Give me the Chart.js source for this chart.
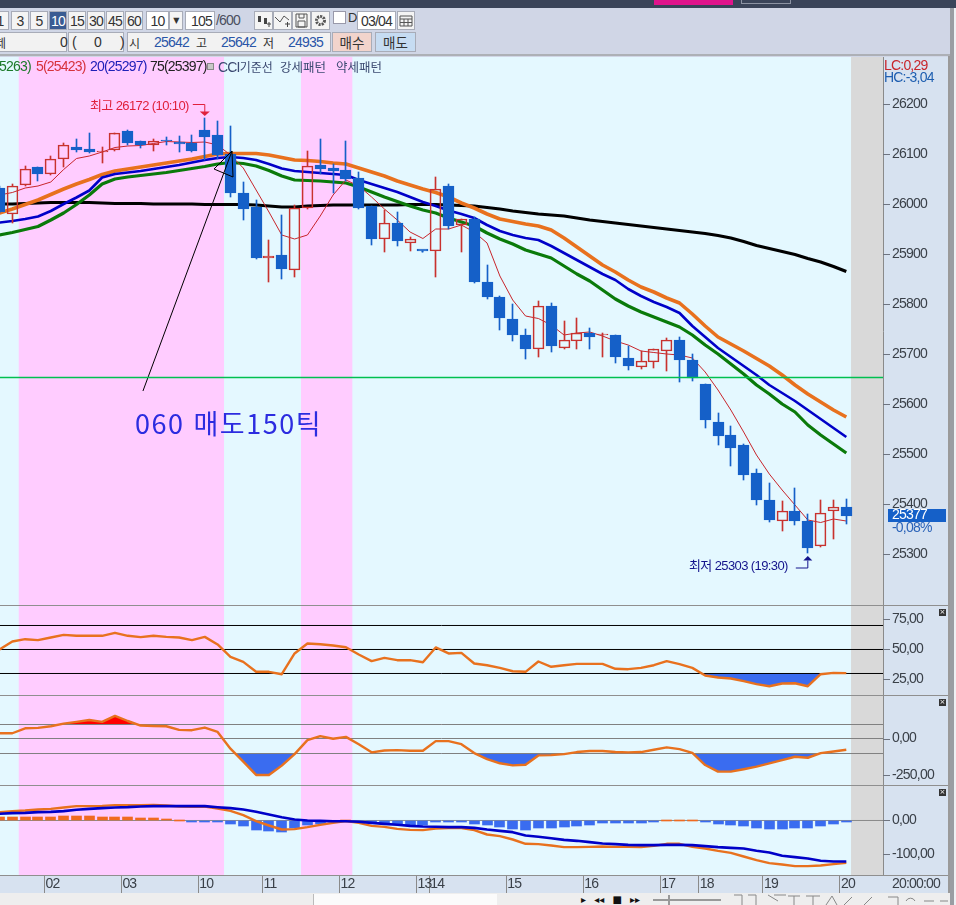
<!DOCTYPE html>
<html lang="ko"><head><meta charset="utf-8">
<script src="https://cdn.jsdelivr.net/npm/chart.js@4"></script>
<style>
html,body{margin:0;padding:0;width:956px;height:905px;overflow:hidden;background:#d0d6e6;}
body{position:relative;font-family:"Liberation Sans","Noto Sans CJK KR",sans-serif;font-size:13px;color:#333;letter-spacing:-.8px;}
.a{position:absolute;white-space:nowrap;}
canvas{position:absolute;left:0;}
.btn{position:absolute;box-sizing:border-box;height:19px;top:11px;background:#f4f4f4;border:1px solid #a8acb8;text-align:center;line-height:18px;font-size:14px;color:#333;}
.f{position:absolute;box-sizing:border-box;top:32px;height:20px;background:#f2f2f2;border:1px solid #a8acb8;}
.t{position:absolute;top:35px;font-size:14px;line-height:15px;white-space:nowrap;}
.k{font-family:"Noto Sans CJK KR";font-size:12px;letter-spacing:0;}
.lg{position:absolute;top:59px;line-height:15px;font-size:14px;white-space:nowrap;z-index:3;}
.lg.k{font-size:12.5px;}
.f.k{font-size:13.5px;}
.x{position:absolute;left:939px;width:7px;height:7px;background:#333;color:#fff;font:7px/7px "DejaVu Sans";text-align:center;z-index:3;letter-spacing:0}
.hl{position:absolute;left:0;width:948px;height:1px;background:#8f8f8f;z-index:3;}
</style></head><body>
<div class="a" style="left:0;top:0;width:956px;height:8px;background:#3a4459"></div>
<div class="a" style="left:654px;top:0;width:79px;height:5px;background:#e0148c"></div>
<div class="a" style="left:741px;top:0;width:48px;height:3px;border:1px solid #8c93a3;border-top:0"></div>

<div class="btn" style="left:-9px;width:18px">1</div><div class="btn" style="left:11px;width:18px">3</div><div class="btn" style="left:30px;width:18px">5</div>
<div class="btn" style="left:49px;width:18px;background:#3a5b92;color:#fff">10</div><div class="btn" style="left:68px;width:18px">15</div><div class="btn" style="left:87px;width:18px">30</div><div class="btn" style="left:106px;width:18px">45</div><div class="btn" style="left:125px;width:18px">60</div>
<div class="btn" style="left:146px;width:23px;background:#fff">10</div><div class="btn" style="left:169px;width:14px;font:8px/17px 'DejaVu Sans'">▼</div>
<div class="btn" style="left:185px;width:30px;background:#fff;text-align:right;padding-right:2px">105</div>
<div class="a" style="left:216px;top:12px;font-size:14px;color:#4a4f60">/600</div>
<div class="btn" style="left:254px;width:19px"><svg width="17" height="17" style="display:block"><path d="M3 4h3v6H3zM9 6h3v6H9z" fill="#444"/><path d="M12 12h4M14 10v5" stroke="#444"/></svg></div>
<div class="btn" style="left:273px;width:19px"><svg width="17" height="17" style="display:block"><path d="M1 5l5 5 4-6 5 4" stroke="#555" fill="none"/><path d="M11 12h5M13.500 10v5" stroke="#444"/></svg></div>
<div class="btn" style="left:292px;width:19px"><svg width="17" height="17" style="display:block"><path d="M3 2h11v13H3zM6 2v4h5V2M5 9h7v6H5z" stroke="#555" fill="none"/></svg></div>
<div class="btn" style="left:311px;width:19px"><svg width="17" height="17" style="display:block"><circle cx="8.500" cy="8.500" r="4" stroke="#555" stroke-width="3" stroke-dasharray="2 1" fill="none"/></svg></div>
<div class="a" style="left:333px;top:11px;width:13px;height:13px;background:#fff;border:1px solid #99a;box-sizing:border-box"></div>
<div class="a" style="left:348px;top:10px;font-size:13px">D</div>
<div class="btn" style="left:357px;width:39px;background:#fff">03/04</div>
<div class="btn" style="left:397px;width:18px"><svg width="16" height="17" style="display:block"><path d="M2 4h12v10H2zM2 7h12M6 7v7M10 7v7M2 10.500h12" stroke="#555" fill="none"/></svg></div>

<div class="f" style="left:-2px;width:69px"></div><div class="f" style="left:68px;width:56px"></div><div class="f" style="left:127px;width:204px"></div>
<div class="t k" style="left:-5px">제</div><div class="t" style="left:60px">0</div><div class="t" style="left:72px">(</div><div class="t" style="left:94px">0</div><div class="t" style="left:120px">)</div>
<div class="t k" style="left:129px">시</div><div class="t" style="left:154px;color:#2a55a8">25642</div>
<div class="t k" style="left:196px">고</div><div class="t" style="left:221px;color:#2a55a8">25642</div>
<div class="t k" style="left:263px">저</div><div class="t" style="left:288px;color:#2a55a8">24935</div>
<div class="f k" style="left:332px;width:40px;background:#f2d4cc;text-align:center;line-height:18px">매수</div>
<div class="f k" style="left:375px;width:41px;background:#c6dcf2;text-align:center;line-height:18px">매도</div>
<div class="a" style="left:0;top:54px;width:950px;height:2px;background:#adb0b6"></div>

<div class="a" style="left:883px;top:57px;width:65px;height:836px;background:#d7e2f0"></div>
<div class="a" style="left:0;top:875px;width:883px;height:18px;background:#d7e2f0"></div>
<div class="a" style="left:948px;top:56px;width:2px;height:837px;background:#9a9a9a"></div>
<div class="a" style="left:950px;top:8px;width:4px;height:897px;background:#9a9da3"></div>
<div class="a" style="left:954px;top:8px;width:2px;height:897px;background:#eef0f4"></div>

<canvas id="cMain" width="948" height="548" style="top:57px"></canvas>
<canvas id="cStr" width="948" height="89" style="top:606px"></canvas>
<canvas id="cCci" width="948" height="89" style="top:696px"></canvas>
<canvas id="cMacd" width="948" height="107" style="top:786px"></canvas>

<div class="hl" style="top:605px"></div><div class="hl" style="top:695px"></div><div class="hl" style="top:785px"></div><div class="hl" style="top:875px"></div>
<div class="x" style="top:609px">×</div><div class="x" style="top:699px">×</div><div class="x" style="top:789px">×</div>

<div class="lg" style="left:-1px;color:#1c7a2a">5263)</div>
<div class="lg" style="left:36px;color:#d6323c">5(25423)</div>
<div class="lg" style="left:90px;color:#2020b8">20(25297)</div>
<div class="lg" style="left:150px;color:#222">75(25397)</div>
<div class="a" style="left:207px;top:63px;width:5px;height:5px;background:#c8c8c8;border:1px solid #888;z-index:3"></div>
<div class="lg" style="left:218px;color:#3c4a72"><span>CCI</span><span class="k">기준선</span></div>
<div class="lg k" style="left:280px;color:#3c4a72">강세패턴</div>
<div class="lg k" style="left:336px;color:#3c4a72">약세패턴</div>
<div class="a" style="left:884px;top:59px;color:#c8262c;font-size:14px;line-height:12px;z-index:3">LC:0,29</div>
<div class="a" style="left:884px;top:71px;color:#1e5eb0;font-size:14px;line-height:12px;z-index:3">HC:-3,04</div>
<div class="a" style="left:135px;top:404px;font:27px/38px 'Noto Sans CJK KR';color:#2c2ce0;letter-spacing:1.5px;z-index:3">060 매도150틱</div>
<div class="a" style="left:892px;top:876px;font-size:14px;line-height:15px;color:#3a4048;z-index:3">20:00:00</div>

<div class="a" style="left:0;top:893px;width:950px;height:12px;background:#eeeeee"></div>
<div class="a" style="left:313px;top:894px;width:183px;height:11px;background:#fbfbfb;border-left:1px solid #bbb"></div>
<div class="a" style="left:581px;top:893px;font:10px/14px 'DejaVu Sans';color:#111;word-spacing:5px;letter-spacing:0">▸ ◂◂ ■ ▸▸</div>
<div class="a" style="left:653px;top:899px;width:68px;height:2px;background:#999"></div>
<div class="a" style="left:668px;top:895px;width:2px;height:10px;background:#999"></div>
<svg class="a" style="left:728px;top:893px" width="220" height="12"><path d="M6 2h8v10M20 2h8v10M40 2l10 6M46 2h12M60 3h12M66 3v9M78 3h14M85 3v9M98 12l6-9 5 9M116 12l8-8M136 12l8-8M160 4h10v8M178 8a5 5 0 0 1 9 0M196 8h10M212 8h8" stroke="#888" fill="none"/></svg>

<script>
/* ---------- DATA ---------- */
const opens  = [26032,25981,26039,26075,26059,26089,26115,26109,26104,26108,26146,26125,26117,26129,26123,26123,26147,26138,26101,26021,25995,25893,25898,25869,25993,26078,26072,26068,26052,25997,25931,25962,25923,25907,25907,26036,25959,25969,25844,25814,25771,25738,25709,25796,25713,25727,25743,25738,25738,25692,25675,25685,25707,25729,25688,25640,25564,25538,25518,25462,25408,25367,25386,25366,25317,25387,25394];
const highs  = [26035,26041,26076,26075,26096,26123,26130,26141,26115,26143,26148,26126,26131,26133,26137,26138,26172,26166,26156,26043,26007,25928,25978,25998,26106,26130,26080,26126,26064,25997,25988,25984,25935,25907,26054,26041,25969,25975,25878,25816,25801,25751,25806,25803,25766,25773,25753,25743,25738,25717,25707,25709,25732,25735,25701,25640,25582,25556,25521,25471,25442,25406,25432,25380,25408,25408,25411];
const lows   = [25984,25961,26039,26045,26059,26075,26105,26103,26083,26106,26118,26113,26107,26118,26103,26107,26088,26091,26013,25968,25893,25845,25850,25855,25993,26061,26021,26045,25991,25918,25903,25916,25906,25906,25855,25951,25905,25845,25811,25749,25727,25691,25695,25705,25713,25710,25709,25695,25683,25669,25670,25671,25667,25645,25647,25553,25518,25477,25448,25398,25365,25347,25358,25303,25317,25330,25360];
const closes = [25984,26037,26071,26060,26091,26117,26108,26105,26105,26143,26123,26117,26126,26125,26121,26107,26135,26098,26023,25990,25893,25897,25871,25993,26077,26070,26065,26050,25992,25931,25961,25925,25931,25906,26031,25956,25969,25845,25815,25773,25737,25709,25797,25717,25729,25742,25735,25739,25693,25676,25687,25709,25729,25689,25653,25567,25537,25513,25459,25409,25368,25387,25367,25313,25383,25395,25377];

const ma5  = [26018,26023,26032,26036,26044,26069,26091,26096,26104,26113,26116,26117,26121,26125,26124,26123,26124,26118,26098,26072,26028,25984,25938,25930,25938,25976,26018,26048,26036,26014,25990,25968,25944,25931,25950,25950,25958,25944,25922,25856,25808,25776,25771,25758,25738,25742,25744,25736,25726,25718,25706,25703,25700,25698,25692,25664,25628,25588,25544,25498,25460,25428,25398,25368,25363,25370,25366];
const ma20 = [25963,25966,25970,25975,25986,26000,26013,26027,26053,26060,26063,26066,26070,26074,26078,26083,26088,26092,26094,26092,26088,26080,26071,26066,26064,26062,26060,26058,26048,26040,26032,26024,26014,26004,25996,25987,25980,25972,25958,25946,25938,25932,25928,25916,25902,25888,25874,25860,25848,25830,25816,25804,25794,25782,25756,25734,25712,25694,25676,25658,25638,25622,25606,25588,25570,25552,25534];
const maGreen = [25938,25943,25949,25955,25968,25982,25999,26018,26040,26050,26054,26057,26060,26063,26067,26071,26075,26080,26083,26081,26076,26067,26056,26048,26047,26046,26044,26042,26034,26024,26014,26005,25996,25988,25982,25972,25964,25956,25942,25930,25920,25908,25900,25892,25876,25860,25846,25828,25810,25796,25784,25774,25764,25754,25738,25718,25700,25680,25660,25638,25620,25600,25584,25558,25538,25520,25502];
const maOrange = [25982,25990,25999,26008,26019,26030,26040,26049,26059,26066,26070,26074,26078,26082,26086,26090,26095,26100,26101,26101,26101,26098,26093,26088,26087,26085,26082,26080,26072,26064,26056,26046,26038,26030,26023,26014,26002,25992,25980,25970,25965,25960,25956,25948,25932,25914,25896,25878,25864,25848,25834,25824,25812,25802,25780,25756,25734,25720,25706,25691,25676,25658,25638,25620,25604,25588,25574];
const ma75 = [26000,26000,26001,26002,26003,26003,26003,26003,26002,26001,26001,26001,26000,26000,26000,26000,25999,25999,25999,25999,25998,25996,25994,25994,25996,25997,25998,25998,25998,25998,25998,25998,25999,25999,25999,25998,25997,25996,25993,25990,25986,25983,25980,25978,25976,25972,25968,25965,25962,25959,25956,25953,25950,25947,25944,25941,25937,25932,25925,25917,25911,25905,25899,25891,25884,25875,25865];

const strength = [50,56.7,58.6,57.8,60,62.2,61.4,61.4,61.4,63.9,61.4,60.3,61.4,60.5,60,57.8,60.5,54.2,43.9,39.7,31.4,31.4,29.4,46.7,55,54.4,53.3,51.9,45.8,40.3,43,41.1,41.1,39.4,51.7,46.7,47.2,38.3,36.9,34.7,31.9,31.4,40,35.6,36.9,38,38,38,33.9,33.6,34.7,36.9,40.3,37.8,34.7,28.3,26.7,25.8,23.6,21.1,19.4,21.7,21.9,19.4,29.4,30.5,30.3];
const cci = [36,36,70,73,84,102,114,127,114,155,120,89,86,84,59,57,75,45,-70,-159,-250,-250,-186,-107,-11,16,-2,11,-39,-95,-82,-80,-84,-84,-18,-18,-39,-100,-141,-170,-184,-180,-116,-114,-107,-93,-86,-86,-93,-95,-93,-77,-61,-73,-98,-182,-227,-227,-211,-193,-170,-148,-125,-132,-100,-89,-77];
const macd = [24.5,27.5,29.4,32.4,34.3,38.2,42.2,42.2,43.1,45.1,45.1,45.1,46.1,44.1,41.2,40.2,41.2,35.3,28.4,15.7,-2,-14.7,-26.5,-25.5,-19.6,-12.7,-6.9,-2,-6.9,-15.7,-18.6,-24.5,-27.5,-28.4,-23.5,-22.5,-22.5,-28.4,-41.2,-46.1,-55.9,-68.6,-69.6,-73.5,-78.4,-78.4,-77.5,-76.5,-77.5,-77.5,-78.4,-74.5,-68.6,-68.6,-77.5,-82.4,-89.2,-95.1,-105.9,-116.7,-125.5,-129.4,-134.3,-134.3,-132.4,-128.4,-124.5];
const signal = [19.6,21.6,22.5,24.5,25.5,27.5,31.4,34.3,36.3,38.2,39.2,41.2,42.2,42.2,42.2,42.2,42.2,39.2,36.3,32.4,25.5,17.6,9.8,2.9,0,-1,-2,-2,-3.9,-6.9,-9.8,-12.7,-15.7,-17.6,-18.6,-19.6,-19.6,-21.6,-26.5,-30.4,-34.3,-44.1,-48,-52,-56.9,-59.8,-63.7,-67.6,-69.6,-71.6,-72.5,-72.5,-71.6,-71.6,-72.5,-75.5,-78.4,-80.4,-82.4,-89.2,-94.1,-103.9,-107.8,-111.8,-118.6,-120.6,-120.6];
const osc = [9,10,10,10,10,13,13,13,10,10,10,7,7,3,2,-1,-1,-4,-10,-16,-28,-31,-33,-23,-14,-9,-5,2,-4,-6,-9,-10,-13,-14,-3,-4,-3,-10,-13,-20,-26,-29,-23,-23,-20,-17,-13,-8,-7,-7,-7,-3,2,2,2,-4,-11,-14,-16,-22,-25,-25,-22,-22,-16,-10,-3];

const strengthLevels = [70,50,30];
const cciLevels = [96,0,-103];
const supportLevel = 25653;
const strongBands = [[1.5,17.5],[23.5,27.5]];
const futureBand = [66.37,68.86];
const arrowX = [11.18,18.12,16.72,18.2,18.12];
const arrowY = [25626,26106,26070,26054,26106];

const dayLabels = ['02','03','10','11','12','13','14','15','16','17','18','19','20'];
const dayStarts = [3.5,9.5,15.5,20.5,26.5,32.5,33.5,39.5,45.5,51.5,54.5,59.5,65.5];
const priceLabels = [26200,26100,26000,25900,25800,25700,25600,25500,25400,25300];
const strLabels = [75,50,25];
const cciLabels = [0,-250];
const macdLabels = [0,-100];
const highMark = {i:16,text:'최고 26172 (10:10)'};
const lowMark = {i:63,text:'최저 25303 (19:30)'};
const lastPrice = {text:'25377',change:'-0,08%'};

/* ---------- STYLES ---------- */
const FONT='"Liberation Sans","Noto Sans CJK KR",sans-serif';
const SPACING='-0.8px';
Chart.defaults.font.family=FONT;
Chart.defaults.animation=false;
const X_MIN=0.039,X_MAX=68.86;
const BG='#e4f8ff',PINK='#ffccff',GREY='#d9d9d9';
const UP='#c8322e',DOWN='#1560c8',ORG='#e8711e',BLU='#0000c8',GRN='#0a7a0a';
const CLEAR='rgba(0,0,0,0)',FILLBLUE='#3a6cf0';

const idx=a=>a.map((v,i)=>({x:i,y:v}));
const line=(a,color,w,order)=>({type:'line',data:idx(a),borderColor:color,borderWidth:w,pointRadius:0,tension:0,fill:false,order,borderJoinStyle:'round'});
const hline=(v,color,w,order)=>({type:'line',data:[{x:X_MIN,y:v},{x:X_MAX,y:v}],borderColor:color,borderWidth:w,pointRadius:0,fill:false,order});
const fillOnly=(a,target,above,below,order)=>({...line(a,CLEAR,0,order),fill:{target:{value:target},above,below}});

const snapPlugin={id:'snap',beforeDatasetsDraw(c){
  c.data.datasets.forEach((d,n)=>{
    if(d.type!=='bar')return;
    c.getDatasetMeta(n).data.forEach(el=>{
      el.x=Math.floor(el.x)+.5;
      const y=Math.round(el.y);let b=Math.round(el.base);
      if(b===y)b=y+1;
      el.y=y;el.base=b;
    });
  });
}};
const bandPlugin={id:'bands',beforeDraw(c){c.ctx.letterSpacing=SPACING;},beforeDatasetsDraw(c){
  const {ctx,chartArea:a,scales:{x}}=c;ctx.save();
  ctx.fillStyle=BG;ctx.fillRect(a.left,a.top,a.width,a.height);
  ctx.fillStyle=PINK;
  strongBands.forEach(b=>{const l=x.getPixelForValue(b[0]),r=x.getPixelForValue(b[1]);ctx.fillRect(l,a.top,r-l,a.height);});
  ctx.fillStyle=GREY;
  {const l=x.getPixelForValue(futureBand[0]);ctx.fillRect(l,a.top,a.right-l,a.height);}
  ctx.restore();
}};
const tickPlugin={id:'minorTicks',afterDraw(c){
  const y=c.scales.y,{ctx}=c,step=y.options.ticks.stepSize;ctx.save();ctx.strokeStyle='#6e7480';ctx.lineWidth=1;
  y.ticks.forEach(t=>{
    if(Math.abs(t.value/step-Math.round(t.value/step))>1e-6)return;
    const p=Math.round(y.getPixelForValue(t.value))+.5,l=t.label==null?3:7;
    ctx.beginPath();ctx.moveTo(y.left,p);ctx.lineTo(y.left+l,p);ctx.stroke();
  });ctx.restore();
}};
function yAxis(min,max,step,labels,fmt){return {
  position:'right',min,max,afterFit(s){s.width=65;s.paddingTop=0;s.paddingBottom=0;},
  grid:{drawOnChartArea:false,drawTicks:false},border:{display:true,color:'#8a8a8a'},
  ticks:{stepSize:step,autoSkip:false,padding:9,color:'#3a4048',font:{size:14},
    callback:v=>labels.includes(v)?fmt(v):null}
};}
const hiddenX={type:'linear',min:X_MIN,max:X_MAX,display:false,offset:false,grid:{offset:false}};
const baseOpts=(scales)=>({responsive:false,animation:false,events:[],layout:{padding:0},
  plugins:{legend:{display:false},tooltip:{enabled:false}},scales});
const fmt2=v=>v.toFixed(2).replace('.',',');

/* ---------- MAIN PANEL ---------- */
const bodyColor=i=>closes[i]>=opens[i]?UP:DOWN;
const cols=opens.map((_,i)=>bodyColor(i));
const candleBase={type:'bar',grouped:false,borderSkipped:false};
const markPlugin={id:'marks',afterDatasetsDraw(c){
  const {ctx,scales:{x,y}}=c;ctx.save();
  ctx.font='13px '+FONT;ctx.textBaseline='middle';ctx.letterSpacing='-0.6px';
  let px=x.getPixelForValue(highMark.i),py=y.getPixelForValue(highs[highMark.i]);
  ctx.strokeStyle=ctx.fillStyle='#e0203c';ctx.lineWidth=1;
  ctx.textAlign='right';ctx.fillText(highMark.text,px-16,py-12);
  ctx.beginPath();ctx.moveTo(px-12,py-13.5);ctx.lineTo(px,py-13.5);ctx.lineTo(px,py-6);ctx.stroke();
  ctx.beginPath();ctx.moveTo(px-5,py-6.5);ctx.lineTo(px+5,py-6.5);ctx.lineTo(px,py-2);ctx.closePath();ctx.fill();
  px=x.getPixelForValue(lowMark.i);py=y.getPixelForValue(lows[lowMark.i]);
  ctx.strokeStyle=ctx.fillStyle='#14148c';
  ctx.fillText(lowMark.text,px-20,py+14);
  ctx.beginPath();ctx.moveTo(px-12,py+15.500);ctx.lineTo(px,py+15.500);ctx.lineTo(px,py+8);ctx.stroke();
  ctx.beginPath();ctx.moveTo(px-4.500,py+8);ctx.lineTo(px+4.500,py+8);ctx.lineTo(px,py+3.500);ctx.closePath();ctx.fill();
  const yy=y.getPixelForValue(closes[closes.length-1]);
  ctx.fillStyle='#1560c8';ctx.fillRect(888,yy-6.500,58,13);
  ctx.letterSpacing=SPACING;
  ctx.fillStyle='#fff';ctx.textAlign='left';ctx.font='14px '+FONT;ctx.fillText(lastPrice.text,892,yy);
  ctx.fillStyle='#2a62b8';ctx.fillText(lastPrice.change,892,yy+12.500);
  ctx.restore();
}};
new Chart(document.getElementById('cMain'),{
  type:'bar',
  data:{datasets:[
    hline(supportLevel,'#00c050',1.4,1),
    line(ma75,'#000',3.2,8),
    line(maOrange,ORG,3.6,7),
    line(ma20,BLU,2.6,6),
    line(maGreen,GRN,3.2,5),
    line(ma5,'#c8262c',1,4),
    {...candleBase,data:opens.map((o,i)=>({x:i,y:[Math.max(o,closes[i]),highs[i]]})),backgroundColor:cols,barThickness:1,order:3},
    {...candleBase,data:opens.map((o,i)=>({x:i,y:[lows[i],Math.min(o,closes[i])]})),backgroundColor:cols,barThickness:1,order:3},
    {...candleBase,data:opens.map((o,i)=>({x:i,y:[o,closes[i]]})),
      backgroundColor:cols.map(c=>c===UP?CLEAR:DOWN),borderColor:cols,borderWidth:1,barThickness:11,minBarLength:1.5,order:2},
    {type:'line',data:arrowX.map((v,i)=>({x:v,y:arrowY[i]})),borderColor:'#000',borderWidth:1,pointRadius:0,tension:0,fill:false,order:1}
  ]},
  options:baseOpts({x:hiddenX,y:yAxis(25198,26294,20,priceLabels,v=>String(v))}),
  plugins:[bandPlugin,snapPlugin,tickPlugin,markPlugin]
});

/* ---------- STRENGTH PANEL ---------- */
new Chart(document.getElementById('cStr'),{
  type:'line',
  data:{datasets:[
    fillOnly(strength,strengthLevels[2],CLEAR,FILLBLUE,6),
    ...strengthLevels.map(v=>hline(v,'#000',1,5)),
    line(strength,ORG,2.4,1)
  ]},
  options:baseOpts({x:hiddenX,y:yAxis(12.08,86.25,5,strLabels,fmt2)}),
  plugins:[bandPlugin,tickPlugin]
});

/* ---------- CCI PANEL ---------- */
new Chart(document.getElementById('cCci'),{
  type:'line',
  data:{datasets:[
    fillOnly(cci,cciLevels[0],'#ff0000',CLEAR,7),
    fillOnly(cci,cciLevels[2],CLEAR,FILLBLUE,6),
    ...cciLevels.map(v=>hline(v,'#808080',1,5)),
    line(cci,ORG,2.4,1)
  ]},
  options:baseOpts({x:hiddenX,y:yAxis(-318.9,291.5,50,cciLabels,fmt2)}),
  plugins:[bandPlugin,tickPlugin]
});

/* ---------- MACD PANEL ---------- */
new Chart(document.getElementById('cMacd'),{
  type:'bar',
  data:{datasets:[
    hline(0,'#8a8a8a',1,6),
    {type:'bar',grouped:false,data:idx(osc),backgroundColor:osc.map(v=>v>=0?'#f06a20':FILLBLUE),barThickness:10,order:5},
    line(macd,ORG,2.4,2),
    line(signal,BLU,2.6,1)
  ]},
  options:baseOpts({
    x:{type:'linear',min:X_MIN,max:X_MAX,position:'bottom',offset:false,
      afterBuildTicks(s){s.ticks=dayStarts.map(v=>({value:v}));},
      afterFit(s){s.height=18;s.paddingLeft=0;s.paddingRight=0;},
      grid:{offset:false,drawOnChartArea:false,drawTicks:true,tickLength:18,color:'#8a8a8a'},
      border:{display:false},
      ticks:{autoSkip:false,maxRotation:0,minRotation:0,align:'start',padding:-17,labelOffset:1,color:'#3a4048',font:{size:14},
        callback:(v,i)=>dayLabels[i]}},
    y:yAxis(-160.3,101.47,20,macdLabels,fmt2)
  }),
  plugins:[bandPlugin,snapPlugin,tickPlugin]
});
</script>
</body></html>
